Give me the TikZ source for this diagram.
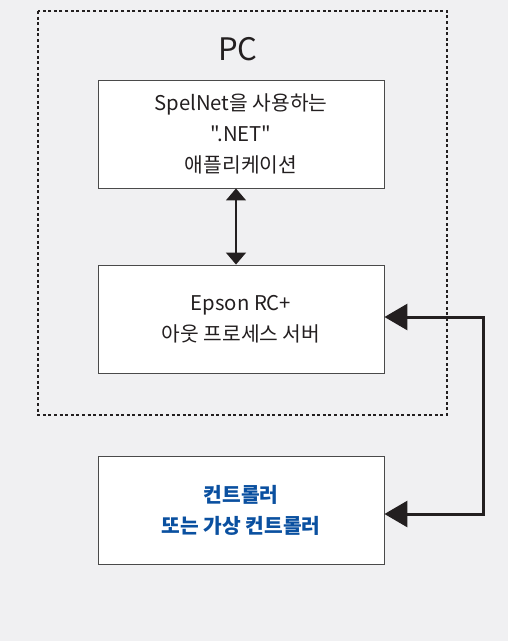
\documentclass[tikz,border=0pt]{standalone}
\usepackage{fontspec}
\newfontfamily\krfont{Noto Sans CJK KR}
\usetikzlibrary{arrows.meta}
\definecolor{bg}{HTML}{F0F0F2}
\definecolor{boxline}{HTML}{4A4A4A}
\definecolor{ink}{HTML}{231F20}
\definecolor{ctlblue}{HTML}{0A50A0}
\tikzset{
  box/.style={draw=boxline, line width=0.9pt, fill=white, minimum width=286pt, minimum height=108pt, align=center, font=\krfont\fontsize{20.3}{31}\selectfont, text=ink, inner sep=0pt},
  group/.style={draw=ink, line width=1.4pt, dash pattern=on 3pt off 2.6pt},
  link/.style={draw=ink, line width=1.5pt, {Triangle[width=20pt,length=12pt]}-{Triangle[width=20pt,length=12pt]}},
  bus/.style={draw=ink, line width=3pt, {Triangle[width=26pt,length=23pt]}-{Triangle[width=26pt,length=23pt]}}
}
\begin{document}
\begin{tikzpicture}[x=1pt,y=-1pt]
\fill[bg] (0,0) rectangle (508,641);
\useasboundingbox (0,0) rectangle (508,641);
\draw[group] (38,11) rectangle (447,415);
\node[font=\krfont\fontsize{31}{31}\selectfont, text=ink] (pc) at (238,49) {PC};
\node[box] (app) at (241,134) {SpelNet을 사용하는\\".NET"\\애플리케이션};
\node[box] (srv) at (241,319) {Epson RC+\\아웃 프로세스 서버};
\node[box, text=ctlblue, font=\krfont\fontsize{20.3}{31}\selectfont\bfseries] (ctl) at (241,510) {컨트롤러\\또는 가상 컨트롤러};
\coordinate (c1) at (483,317);
\coordinate (c2) at (483,514);
\draw[link] ([xshift=-5pt]app.south) -- ([xshift=-5pt]srv.north);
\draw[bus] (srv.east |- c1) -- (c1) -- (c2) -- (ctl.east |- c2);
\end{tikzpicture}
\end{document}
